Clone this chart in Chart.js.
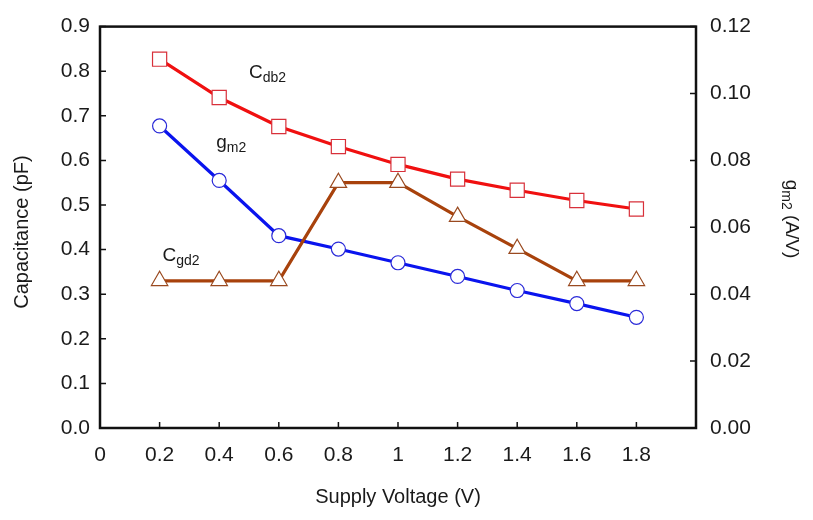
<!DOCTYPE html>
<html>
<head>
<meta charset="utf-8">
<script src="https://cdn.jsdelivr.net/npm/chart.js@4"></script>
<style>
  html, body { margin: 0; padding: 0; background: #fff; }
  #wrap { width: 813px; height: 520px; }
</style>
</head>
<body>
<div id="wrap"><canvas id="capChart" width="813" height="520"></canvas></div>
<script>
// supply voltage (V)
const voltages = [0.2, 0.4, 0.6, 0.8, 1.0, 1.2, 1.4, 1.6, 1.8];
// capacitances (pF)
const cdb2 = [0.827, 0.741, 0.676, 0.631, 0.591, 0.558, 0.533, 0.510, 0.491];
const cgd2 = [0.33, 0.33, 0.33, 0.55, 0.55, 0.474, 0.402, 0.33, 0.33];
// transconductance (A/V)
const gm2 = [0.0903, 0.0740, 0.0575, 0.0535, 0.0494, 0.0453, 0.0411, 0.0372, 0.0331];

const FONT = '"Liberation Sans", Arial, sans-serif';

function pts(ys) {
    return voltages.map((v, i) => ({ x: v, y: ys[i] }));
}

// text labels with subscripts, placed in data coordinates
const seriesLabels = [
    { main: 'C', sub: 'db2', x: 0.50, y: 0.797 },
    { main: 'g', sub: 'm2', x: 0.39, y: 0.640 },
    { main: 'C', sub: 'gd2', x: 0.21, y: 0.386 }
];

function drawSub(c, main, sub, x, y, size, subSize) {
    c.font = size + 'px ' + FONT;
    c.fillText(main, x, y);
    const w = c.measureText(main).width;
    c.font = subSize + 'px ' + FONT;
    c.fillText(sub, x + w, y + size * 0.28);
    return w + c.measureText(sub).width;
}

const decor = {
    id: 'decor',
    afterDraw(chart) {
        const c = chart.ctx;
        const a = chart.chartArea;
        const sx = chart.scales.x, sy = chart.scales.y, sy2 = chart.scales.y2;
        c.save();
        // frame
        c.strokeStyle = '#111';
        c.lineWidth = 2.5;
        c.strokeRect(a.left, a.top, a.right - a.left, a.bottom - a.top);
        // inward tick marks
        c.lineWidth = 1.5;
        c.beginPath();
        sx.ticks.forEach(t => {
            const px = sx.getPixelForValue(t.value);
            c.moveTo(px, a.bottom); c.lineTo(px, a.bottom - 6);
        });
        sy.ticks.forEach(t => {
            const py = sy.getPixelForValue(t.value);
            c.moveTo(a.left, py); c.lineTo(a.left + 6, py);
        });
        sy2.ticks.forEach(t => {
            const py = sy2.getPixelForValue(t.value);
            c.moveTo(a.right, py); c.lineTo(a.right - 6, py);
        });
        c.stroke();

        c.fillStyle = '#1a1a1a';
        c.textBaseline = 'middle';
        c.textAlign = 'left';
        seriesLabels.forEach(l => {
            drawSub(c, l.main, l.sub, sx.getPixelForValue(l.x), sy.getPixelForValue(l.y), 19, 14);
        });

        // axis titles
        c.font = '20px ' + FONT;
        c.textAlign = 'center';
        c.fillText('Supply Voltage (V)', (a.left + a.right) / 2, 497);

        c.save();
        c.translate(22, 232);
        c.rotate(-Math.PI / 2);
        c.fillText('Capacitance (pF)', 0, 0);
        c.restore();

        c.save();
        c.translate(791, 219);
        c.rotate(Math.PI / 2);
        c.textAlign = 'left';
        c.font = '19px ' + FONT;
        const wg = c.measureText('g').width;
        c.font = '14px ' + FONT;
        const wm = c.measureText('m2').width;
        c.font = '19px ' + FONT;
        const wr = c.measureText(' (A/V)').width;
        const total = wg + wm + wr;
        const w = drawSub(c, 'g', 'm2', -total / 2, 0, 19, 14);
        c.font = '19px ' + FONT;
        c.fillText(' (A/V)', -total / 2 + w, 0);
        c.restore();

        c.restore();
    }
};

const ctx = document.getElementById('capChart').getContext('2d');
const capChart = new Chart(ctx, {
    type: 'line',
    data: {
        datasets: [
            {
                label: 'Cgd2',
                data: pts(cgd2),
                yAxisID: 'y',
                borderColor: '#a8420c',
                borderWidth: 3.2,
                pointStyle: 'triangle',
                pointRadius: 9.5,
                pointBorderWidth: 1.2,
                pointBorderColor: '#9a4a20',
                pointBackgroundColor: '#fff'
            },
            {
                label: 'gm2',
                data: pts(gm2),
                yAxisID: 'y2',
                borderColor: '#0a14ee',
                borderWidth: 3.2,
                pointStyle: 'circle',
                pointRadius: 7,
                pointBorderWidth: 1.2,
                pointBorderColor: '#2a2ad8',
                pointBackgroundColor: '#fff'
            },
            {
                label: 'Cdb2',
                data: pts(cdb2),
                yAxisID: 'y',
                borderColor: '#f01010',
                borderWidth: 3.2,
                pointStyle: 'rect',
                pointRadius: 10,
                pointBorderWidth: 1.2,
                pointBorderColor: '#d8303a',
                pointBackgroundColor: '#fff'
            }
        ]
    },
    options: {
        responsive: false,
        animation: false,
        layout: { padding: { top: 15, left: 0, right: 0, bottom: 0 } },
        plugins: {
            legend: { display: false },
            tooltip: { enabled: false }
        },
        scales: {
            x: {
                type: 'linear',
                min: 0,
                max: 2,
                grid: { display: false, drawTicks: false },
                border: { display: false },
                afterFit(s) { s.height = 92; },
                ticks: {
                    stepSize: 0.2,
                    padding: 15,
                    color: '#1a1a1a',
                    font: { family: FONT, size: 21 },
                    callback: v => (v > 1.9 ? '' : String(Math.round(v * 10) / 10))
                }
            },
            y: {
                position: 'left',
                min: 0,
                max: 0.9,
                grid: { display: false, drawTicks: false },
                border: { display: false },
                afterFit(s) { s.width = 100; },
                ticks: {
                    stepSize: 0.1,
                    padding: 10,
                    color: '#1a1a1a',
                    font: { family: FONT, size: 21 },
                    callback: v => v.toFixed(1)
                }
            },
            y2: {
                position: 'right',
                min: 0,
                max: 0.12,
                grid: { display: false, drawTicks: false },
                border: { display: false },
                afterFit(s) { s.width = 117; },
                ticks: {
                    stepSize: 0.02,
                    padding: 14,
                    color: '#1a1a1a',
                    font: { family: FONT, size: 21 },
                    callback: v => v.toFixed(2)
                }
            }
        }
    },
    plugins: [decor]
});
</script>
</body>
</html>
